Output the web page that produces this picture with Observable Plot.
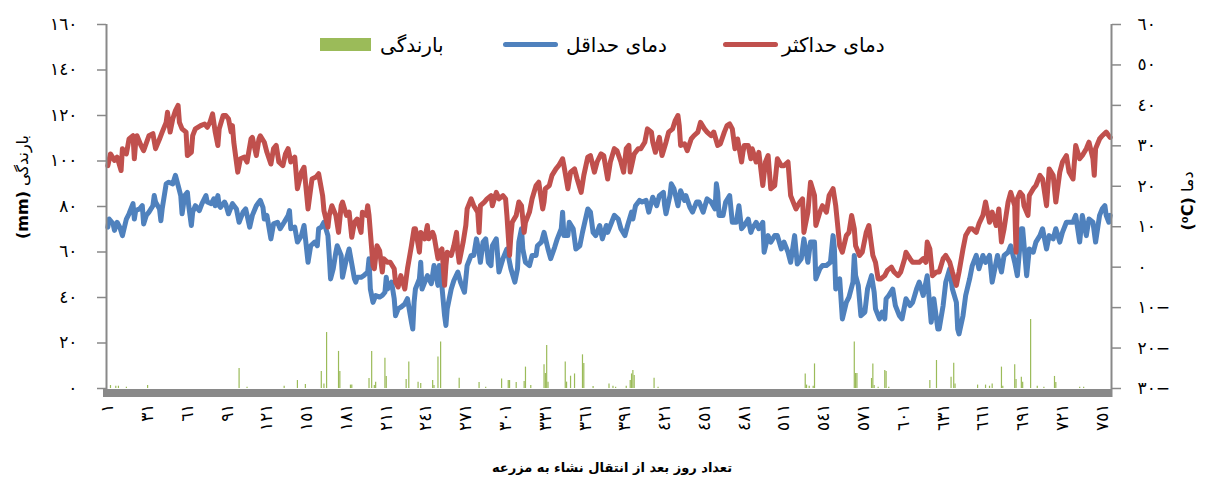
<!DOCTYPE html>
<html><head><meta charset="utf-8">
<script src="https://cdn.jsdelivr.net/npm/d3@7"></script>
<script src="https://cdn.jsdelivr.net/npm/@observablehq/plot@0.6"></script>
<style>
body{margin:0;background:#fff;font-family:"DejaVu Sans",sans-serif;}
#wrap{position:relative;width:1206px;height:479px;overflow:hidden;}
.lg{position:absolute;font-size:20px;line-height:20px;color:#000;white-space:nowrap;}
.sw{position:absolute;}
</style></head><body>
<div id="wrap"><div id="chart"></div>
<div class="sw" style="left:320px;top:38px;width:51px;height:13px;background:#9BBB59"></div>
<div class="lg" style="left:380px;top:35px">بارندگی</div>
<div class="sw" style="left:503px;top:42px;width:55px;height:5px;border-radius:3px;background:#4F81BD"></div>
<div class="lg" style="left:566px;top:35px">دمای حداقل</div>
<div class="sw" style="left:723px;top:42px;width:55px;height:5px;border-radius:3px;background:#C0504D"></div>
<div class="lg" style="left:782px;top:35px">دمای حداکثر</div>
</div>
<script>
// x tick labels (days after transplanting)
const dayTicks = [1,31,61,91,121,151,181,211,241,271,301,331,361,391,421,451,481,511,541,571,601,631,661,691,721,751];
const mmTicks = [0,20,40,60,80,100,120,140,160];
const tempTicks = [-30,-20,-10,0,10,20,30,40,50,60];

// Maximum temperature (°C)
const tmaxDay = [1,3,6,8,11,12,15,17,20,21,22,23,26,28,32,35,37,40,42,45,46,48,50,52,54,55,57,60,61,64,65,67,71,74,76,78,80,82,84,85,88,90,
92,94,95,96,99,101,104,106,109,110,113,115,116,119,121,124,126,128,130,133,135,137,139,142,144,147,149,152,154,155,158,160,163,164,167,168,170,173,175,177,178,181,183,
185,187,189,192,193,196,197,198,201,202,204,206,208,209,212,214,217,218,220,222,225,227,230,232,233,236,237,240,242,243,246,247,250,251,253,255,256,257,260,262,264,265,266,269,271,272,275,277,280,
281,282,285,287,290,291,294,296,299,301,302,304,305,306,309,311,313,315,316,319,321,324,326,329,330,331,334,336,339,341,344,345,348,350,353,355,358,360,363,365,368,370,373,375,
378,380,383,385,388,390,392,394,395,398,401,403,406,408,411,412,414,417,419,422,424,427,429,431,432,433,436,438,441,443,446,448,451,453,456,458,461,463,466,468,470,
472,474,476,479,480,481,484,486,487,490,492,495,497,499,501,504,506,509,511,514,516,519,520,523,525,526,529,531,534,535,538,540,543,545,548,550,553,555,558,560,562,
564,565,568,570,573,575,578,580,582,584,587,589,592,594,597,599,602,603,606,608,611,613,616,618,619,621,623,626,628,631,633,636,638,641,643,646,648,651,653,656,658,
661,663,666,668,671,673,675,677,680,682,685,686,687,689,691,692,695,696,699,701,704,706,709,711,714,716,719,721,724,726,729,731,734,736,739,741,744,745,746,749,751,754,756,757];
const tmaxC = [25.1,28.0,26.4,27.2,23.9,29.3,28.0,31.7,32.5,26.8,30.9,32.5,30.1,28.8,32.5,33.0,29.3,31.7,33.4,35.8,38.3,33.4,36.7,38.7,40.0,35.8,34.2,33.4,27.6,28.4,32.5,34.2,35.0,35.4,34.6,35.8,37.9,33.4,30.1,34.2,37.5,37.5,
36.7,33.4,35.0,30.9,23.5,26.8,27.2,26.0,31.7,32.1,27.6,31.7,32.5,30.9,28.4,25.5,29.3,30.1,26.0,25.1,28.0,29.3,26.0,27.2,19.4,23.5,24.7,14.4,19.4,21.8,22.3,23.1,17.7,14.0,9.9,12.8,15.2,12.8,8.6,15.2,16.1,12.8,13.6,
7.4,11.1,11.9,8.6,13.6,12.8,15.2,12.8,0.4,-0.4,5.3,4.1,-1.2,2.1,1.2,1.2,-0.4,-3.7,-4.9,-2.1,-5.4,-0.4,5.3,9.5,9.5,3.7,8.6,7.0,10.3,7.0,8.6,7.8,2.1,3.7,4.5,-4.5,0.4,3.7,2.9,5.3,8.6,3.7,1.2,6.2,10.3,14.4,16.9,15.2,13.6,
8.6,15.2,16.1,16.9,17.7,15.2,18.5,16.9,17.7,16.9,12.8,2.9,7.8,11.1,12.8,16.1,15.2,8.6,11.1,13.6,16.9,20.2,21.0,14.4,16.1,19.4,20.2,22.7,24.3,25.1,26.8,25.1,19.4,23.5,24.3,21.8,18.5,22.7,27.2,27.6,23.5,26.0,28.0,27.6,
21.8,26.0,29.3,28.8,26.0,23.5,29.3,30.1,23.5,28.0,29.3,29.3,30.9,34.2,33.4,30.9,28.4,32.1,27.6,30.9,33.4,34.2,36.3,37.5,35.0,30.1,30.5,28.8,31.7,32.5,33.4,35.8,34.2,33.4,32.5,33.4,30.1,30.5,33.4,35.0,35.4,
34.2,29.3,31.7,26.0,28.4,30.1,30.1,26.8,29.3,26.0,28.4,20.2,26.0,27.6,19.4,20.2,26.8,25.1,25.1,26.0,17.7,15.2,14.4,16.1,16.9,8.6,13.6,21.0,17.7,10.3,13.6,15.2,13.6,17.7,19.4,15.2,5.3,3.7,7.8,8.6,12.8,
9.5,5.3,2.9,3.7,8.6,10.3,2.9,1.2,-2.9,-2.9,-2.1,-0.8,0.0,-1.2,-2.1,-1.2,2.1,3.7,2.1,1.2,1.2,1.2,2.1,1.2,6.2,4.5,-2.1,-1.2,-1.2,2.1,2.9,1.2,-1.2,-4.5,-1.2,4.5,7.8,9.5,9.5,8.6,10.7,
12.8,16.1,11.1,13.6,10.3,14.4,6.2,9.5,16.1,18.5,15.2,3.7,16.9,18.5,17.7,15.2,12.8,17.7,19.4,20.2,22.7,21.8,15.2,24.3,22.7,16.1,23.5,26.0,27.6,23.5,21.8,30.1,26.8,27.6,29.3,30.9,26.8,22.7,29.3,31.7,32.5,33.4,32.5,32.1];

// Minimum temperature (°C)
const tminDay = [1,2,5,6,8,10,12,15,17,20,21,22,25,27,28,30,32,35,36,37,40,41,42,45,47,50,52,54,56,57,59,61,62,64,65,67,70,72,75,76,79,81,82,84,85,86,89,
90,92,95,98,100,103,105,108,110,113,115,116,118,119,121,124,126,129,131,134,137,138,139,142,144,147,149,152,154,157,159,160,162,164,167,168,169,171,173,174,177,178,181,183,
186,187,188,189,192,194,197,198,199,201,203,206,208,210,211,212,215,217,218,220,222,225,227,230,231,232,233,236,237,238,241,242,245,247,250,251,252,255,256,257,260,262,265,267,270,272,275,277,279,281,
282,284,286,288,290,291,294,296,299,301,302,305,308,310,311,313,314,316,319,321,324,325,328,330,333,335,338,340,343,344,345,348,349,352,354,357,359,363,365,367,369,372,374,
377,378,381,383,386,388,391,393,396,397,399,402,404,407,409,412,415,417,420,421,422,425,426,428,431,433,436,437,440,442,445,447,450,453,456,459,460,461,462,465,467,470,
472,475,477,479,481,484,486,487,490,492,495,496,499,501,504,506,509,511,514,516,519,521,524,526,529,531,534,535,538,540,543,546,548,549,550,553,555,558,560,563,564,
565,567,569,572,574,577,579,580,583,585,587,588,590,593,595,598,600,603,606,608,611,613,616,618,619,622,623,624,627,628,631,633,636,638,641,642,643,646,648,651,653,656,658,
661,663,666,668,670,672,675,677,680,682,685,687,690,691,694,696,699,701,704,706,709,711,714,716,719,721,724,726,729,731,734,736,739,741,744,746,749,751,753,754,756,757];
const tminC = [9.9,11.9,10.7,9.1,11.1,9.9,7.8,11.9,13.2,15.7,11.9,14.0,14.4,15.2,10.7,12.8,13.6,15.2,17.7,16.1,14.4,11.5,14.4,20.6,21.0,20.6,22.7,20.2,17.7,13.2,17.7,18.5,15.2,10.3,13.6,15.2,14.0,15.7,17.7,16.1,15.7,16.9,15.2,17.7,15.2,14.8,16.1,
15.5,13.2,15.7,14.4,11.1,13.6,14.4,9.9,12.8,15.2,16.1,16.5,14.8,11.9,12.8,7.0,10.7,11.1,9.5,11.1,12.8,14.0,9.5,9.9,6.2,7.8,10.3,1.2,5.3,6.2,5.3,9.5,9.9,11.1,7.8,2.9,-2.9,-0.4,3.7,5.3,2.9,-2.5,2.1,4.5,
-1.0,-2.9,-3.7,-2.5,-2.5,-2.1,-1.2,2.1,-5.4,-8.7,-7.0,-7.4,-7.0,-6.2,-2.5,-5.4,-3.7,-7.8,-12.0,-10.3,-9.9,-9.1,-7.8,-13.6,-15.3,-8.7,-5.4,-2.9,1.2,-5.4,-2.9,-2.1,-4.1,0.4,-4.5,0.4,-1.2,-12.0,-14.4,-10.3,-5.4,-3.3,-1.2,-3.7,-6.2,0.4,2.9,2.9,7.0,3.7,
1.2,6.2,7.0,1.2,0.4,5.3,7.0,-1.2,2.1,3.7,4.5,-0.4,-3.7,-0.4,6.2,9.5,4.5,1.2,0.4,2.9,2.9,5.3,6.2,8.6,4.5,2.1,4.9,7.0,9.5,13.6,7.8,7.8,11.1,9.5,4.5,5.3,8.6,14.4,13.6,8.6,7.8,10.3,7.0,
10.3,8.6,11.1,12.8,11.9,9.5,7.8,10.3,13.6,11.9,15.2,16.5,16.1,16.5,13.6,17.3,15.2,17.7,18.5,15.2,13.2,17.7,20.6,19.4,15.2,18.9,16.5,17.7,14.8,13.6,16.1,16.1,13.6,16.9,16.1,14.4,20.6,18.5,12.8,12.8,16.1,17.7,
11.1,11.1,15.2,9.5,10.3,11.9,8.6,9.5,11.1,9.5,11.1,3.7,7.8,6.2,7.8,7.8,4.5,6.2,3.7,1.2,7.8,0.8,2.1,7.0,1.2,6.2,6.2,-2.9,-0.4,0.4,0.4,1.2,7.8,4.5,-5.4,-2.9,-12.8,-8.7,-7.4,-3.7,2.9,
-2.1,-4.5,-12.0,-11.1,-5.4,-2.1,-6.2,-10.3,-12.8,-11.1,-12.8,-7.8,-7.0,-5.4,-9.5,-12.0,-12.8,-7.8,-9.5,-8.7,-5.4,-3.7,-7.0,-3.7,-2.1,-13.6,-11.1,-7.8,-15.3,-15.3,-9.5,-3.7,-0.4,-5.4,-8.7,-15.3,-16.5,-12.0,-7.0,-2.9,0.4,2.9,-0.4,
2.9,1.2,2.9,-3.7,-0.4,2.9,-1.2,2.9,3.7,5.3,1.2,-2.1,9.5,9.5,-2.1,4.5,3.7,6.2,7.8,9.5,4.5,7.8,7.0,9.5,6.2,8.6,11.1,11.1,11.1,12.8,6.2,12.8,7.8,11.9,11.1,6.2,12.8,14.4,15.2,12.8,11.1,12.8];

// Precipitation (mm)
const rainDay = [3,7,9,15,31,100,106,134,144,150,162,164,166,175,176,184,185,198,200,202,203,210,211,226,228,235,237,246,247,250,252,266,281,286,298,303,304,309,315,316,320,330,331,332,333,346,347,350,353,359,360,367,379,382,384,392,395,396,397,398,413,416,527,528,530,533,534,564,565,566,577,578,579,582,587,588,590,621,626,637,639,640,657,663,666,668,675,676,685,686,690,691,697,702,707,715,716,734,737];
const rainMm = [1.3,1.0,1.0,0.5,1.3,8.8,0.5,1.0,3.5,1.8,7.5,2.0,24.6,16.3,7.5,1.5,1.5,4.4,16.3,1.3,2.8,13.3,5.3,4.0,11.6,2.8,2.2,3.5,1.3,13.8,20.4,4.5,2.6,0.5,4.2,3.5,3.5,2.6,3.1,9.4,1.3,10.4,6.6,18.9,2.8,11.6,2.8,5.4,6.4,14.8,11.0,0.9,2.0,1.0,0.5,1.0,3.5,6.4,7.9,5.7,4.5,0.5,6.4,1.5,1.0,1.0,10.8,20.4,6.6,6.6,4.4,10.8,1.3,0.5,7.9,7.5,0.5,3.5,12.3,5.0,11.1,2.0,1.5,1.5,1.0,2.0,9.4,1.0,10.4,4.0,5.0,2.8,30.3,1.0,0.5,5.3,2.6,0.5,0.5];

const nDays = 757;
const toMm = t => (t + 30) * 160 / 90;   // temperature axis mapped onto precipitation axis
const toC = v => Math.round(v * 90 / 160 - 30);
const ar = n => String(Math.abs(n)).replace(/\d/g, c => "٠١٢٣٤٥٦٧٨٩"[c]);

const maxData = tmaxDay.map((d, i) => ({day: d, v: toMm(tmaxC[i])}));
const minData = tminDay.map((d, i) => ({day: d, v: toMm(tminC[i])}));
const rain = rainDay.map((d, i) => ({day: d, mm: rainMm[i]}));

const grey = "#898989";
const chart = Plot.plot({
  width: 1206, height: 479,
  marginLeft: 106, marginRight: 95, marginTop: 24, marginBottom: 91,
  style: {fontFamily: "DejaVu Sans", fontSize: "17px", background: "#fff", color: "#000", overflow: "visible"},
  x: {domain: [0, nDays + 1], axis: null},
  y: {domain: [0, 160], axis: null},
  marks: [
    Plot.ruleX(rain, {x: "day", y1: 0, y2: "mm", stroke: "#9BBB59", strokeWidth: 1.2}),
    Plot.line(minData, {x: "day", y: "v", stroke: "#4F81BD", strokeWidth: 5}),
    Plot.line(maxData, {x: "day", y: "v", stroke: "#C0504D", strokeWidth: 5}),
    Plot.ruleX([0], {stroke: grey, strokeWidth: 2, insetBottom: -9}),
    Plot.ruleX([nDays + 1], {stroke: grey, strokeWidth: 2, insetBottom: -9}),
    Plot.ruleY([0], {stroke: grey, strokeWidth: 8, dy: 4.5, insetLeft: -3, insetRight: -1}),
    Plot.axisY(mmTicks, {anchor: "left", tickSize: 9, tickPadding: 20, stroke: grey, strokeWidth: 1.5, fill: "#000", fontSize: 17, tickFormat: ar, label: null}),
    Plot.axisY(tempTicks.map(toMm), {anchor: "right", tickSize: 9, tickPadding: 17, stroke: grey, strokeWidth: 1.5, fill: "#000", fontSize: 17,
      tickFormat: v => { const t = toC(v); return ar(t) + (t < 0 ? "−" : ""); }, label: null}),
    Plot.axisX(dayTicks, {anchor: "bottom", tickSize: 0, tickPadding: 15, tickRotate: -90, fill: "#000", fontSize: 17, tickFormat: ar, label: null})
  ]
});
document.getElementById("chart").appendChild(chart);

const svg = d3.select(chart);
const yl = svg.append("text").attr("transform", "translate(22,187) rotate(-90)")
  .attr("text-anchor", "middle").attr("dominant-baseline", "central").attr("font-size", 16).attr("fill", "#000");
yl.append("tspan").attr("font-weight", "bold").text("(mm)");
yl.append("tspan").text(" بارندگی");
const yr = svg.append("text").attr("transform", "translate(1187,201) rotate(-90)")
  .attr("text-anchor", "middle").attr("dominant-baseline", "central").attr("font-size", 16).attr("fill", "#000");
yr.append("tspan").attr("font-weight", "bold").text("(⁰C)");
yr.append("tspan").text(" دما");
svg.append("text").attr("x", 612).attr("y", 467).attr("text-anchor", "middle").attr("dominant-baseline", "central")
  .attr("font-size", 13).attr("font-weight", "bold").attr("fill", "#000").text("تعداد روز بعد از انتقال نشاء به مزرعه");
</script>
</body></html>
